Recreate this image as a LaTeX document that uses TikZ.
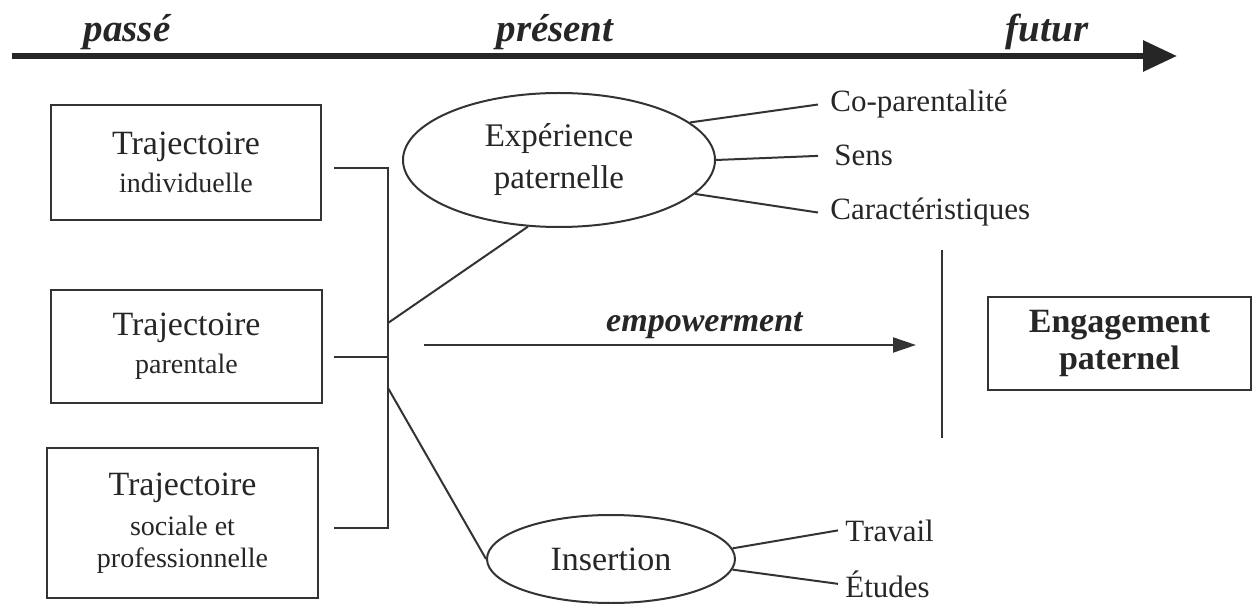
\documentclass[tikz,border=0pt]{standalone}
\usepackage{fontspec}
\setmainfont{Liberation Serif}
\usetikzlibrary{shapes.geometric,arrows.meta}
\tikzstyle{box} = [rectangle, text centered, align=center, draw=black!80, line width=1.2pt, inner sep=0pt]
\tikzstyle{bubble} = [ellipse, text centered, align=center, draw=black!80, line width=1pt, inner sep=0pt]
\tikzstyle{item} = [anchor=base west, inner sep=0pt, font=\fontsize{15.5}{19}\selectfont]
\tikzstyle{era} = [anchor=base, inner sep=0pt, font=\fontsize{19.5}{22}\selectfont\bfseries\itshape]
\tikzstyle{link} = [draw=black!80, line width=1pt]
\tikzstyle{arrow} = [link, -{Triangle[length=11.5pt,width=7.5pt]}]
\newcommand{\trajbig}{\fontsize{17}{18}\selectfont}
\newcommand{\trajsmall}{\fontsize{14}{18}\selectfont}

\begin{document}
\begin{tikzpicture}[x=0.5pt, y=-0.5pt, color=black!85]
    \useasboundingbox (0,0) rectangle (1253,604);

    % time line
    \node (passe) [era] at (127,42) {passé};
    \node (present) [era] at (555,42) {présent};
    \node (futur) [era] at (1047,42) {futur};
    \coordinate (tstart) at (12,56);
    \coordinate (tend) at (1177,56);
    \draw [line width=3pt, -{Triangle[length=17pt,width=15pt]}] (tstart) -- (tend);

    % trajectoires
    \node (trajind) [box, minimum width=135pt, minimum height=57.5pt] at (186,162.5) {\trajbig Trajectoire\\[4.5pt]\trajsmall individuelle};
    \node (trajpar) [box, minimum width=135.5pt, minimum height=56.5pt] at (186.5,346.5) {\trajbig Trajectoire\\[4.5pt]\trajsmall parentale};
    \node (trajsoc) [box, minimum width=135.5pt, minimum height=75pt] at (182.5,523) {\trajbig Trajectoire\\[5.5pt]\trajsmall sociale et\\[4pt]\trajsmall professionnelle};

    \coordinate (hubtop) at (388,168);
    \coordinate (hubmid) at (388,357);
    \coordinate (hubbot) at (388,528);
    \coordinate (hubup) at (388,323);
    \coordinate (hubdown) at (388,388);
    \draw [link] ([xshift=6pt]trajind.east |- hubtop) -- (hubtop) -- (hubbot) -- ([xshift=7.5pt]trajsoc.east |- hubbot);
    \draw [link] ([xshift=5.5pt]trajpar.east |- hubmid) -- (hubmid);

    % experience et insertion
    \node (experience) [bubble, minimum width=156pt, minimum height=67pt, font=\fontsize{16.5}{21}\selectfont] at (559,160) {Expérience\\paternelle};
    \node (insertion) [bubble, minimum width=124pt, minimum height=44pt, font=\fontsize{17}{20}\selectfont] at (611,559) {Insertion};
    \draw [link] (hubup) -- (experience.245);
    \draw [link] (hubdown) -- (insertion.west);

    \node (coparent) [item] at (830,112) {Co-parentalité};
    \node (sens) [item] at (834,166) {Sens};
    \node (caract) [item] at (830,220) {Caractéristiques};
    \draw [link] (experience.16) -- ([xshift=-6pt]coparent.west);
    \draw [link] (experience.east) -- ([xshift=-8pt]sens.west);
    \draw [link] (experience.-14) -- ([xshift=-6pt]caract.west);

    \node (travail) [item] at (845,541) {Travail};
    \node (etudes) [item] at (845,597) {Études};
    \draw [link] (insertion.5) -- ([xshift=-3.5pt]travail.west);
    \draw [link] (insertion.-5) -- ([xshift=-3.5pt]etudes.west);

    % empowerment
    \coordinate (empstart) at (424,345);
    \coordinate (empend) at (916,345);
    \draw [arrow] (empstart) -- node (emplabel) [pos=0.57, above, inner sep=0pt, yshift=2.5pt, font=\fontsize{17}{20}\selectfont\bfseries\itshape] {empowerment} (empend);

    \coordinate (bartop) at (942,250);
    \coordinate (barbot) at (942,438);
    \draw [link, line width=1.3pt] (bartop) -- (barbot);

    \node (engagement) [box, minimum width=131.5pt, minimum height=46.5pt, font=\fontsize{17}{18.5}\selectfont\bfseries] at (1119.5,343.5) {Engagement\\paternel};
\end{tikzpicture}
\end{document}
